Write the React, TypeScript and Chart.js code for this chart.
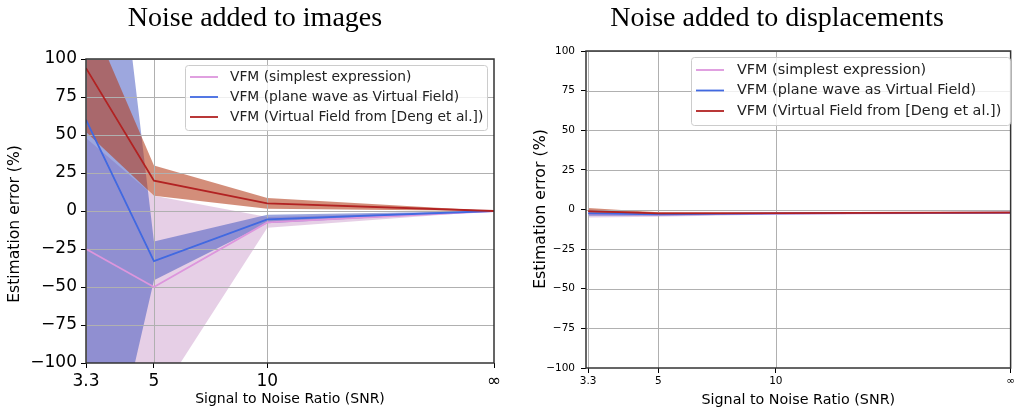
import React, { useEffect, useRef } from 'react';
import { Chart, registerables } from 'chart.js';

Chart.register(...registerables);

// ---------- data ----------
const SNR_LABELS = ['3.3', '5', '10', '\u221E'];
const SNR_POS = [3.3, 5, 10, 40]; // "∞" is placed at 40 on the log axis
const Y_TICKS = [-100, -75, -50, -25, 0, 25, 50, 75, 100];
const SERIES_NAMES = [
  'VFM (simplest expression)',
  'VFM (plane wave as Virtual Field)',
  'VFM (Virtual Field from [Deng et al.])',
];

// Noise added to images
const imgSimpleMean = [-25, -50, -7.5, 0];
const imgSimpleHigh = [48, 10, -4, 0];
const imgSimpleLow = [-150, -127, -11, 0];
const imgPlaneMean = [60, -33, -5.5, 0];
const imgPlaneHigh = [358, -20, -2.5, 0];
const imgPlaneLow = [-240, -45.5, -8, 0];
const imgDengMean = [94, 20, 5, 0];
const imgDengHigh = [134, 30, 8.5, 0];
const imgDengLow = [52, 10, 1.5, 0];

// Noise added to displacements
const dispSimpleMean = [-2.6, -3.2, -2.6, -2.1];
const dispSimpleHigh = [0, -2, -2, -1.9];
const dispSimpleLow = [-5, -4.5, -3.2, -2.3];
const dispPlaneMean = [-2.5, -3.1, -2.5, -2.0];
const dispPlaneHigh = [-1, -2.4, -2.2, -1.9];
const dispPlaneLow = [-4, -4, -3, -2.1];
const dispDengMean = [-1, -2.5, -2.3, -1.9];
const dispDengHigh = [1, -1.8, -2, -1.8];
const dispDengLow = [-3, -3.2, -2.6, -2.0];

// ---------- styles ----------
const LINE_COLORS = ['#DD96DD', '#4169E1', '#B22222'];
const FILL_COLORS = ['rgba(205,160,205,0.5)', 'rgba(60,80,190,0.5)', 'rgba(180,60,25,0.58)'];

const pts = (arr: number[]) => SNR_POS.map((x, i) => ({ x, y: arr[i] }));
const fmtY = (v: number) => (v < 0 ? '\u2212' + Math.abs(v) : String(v));

const decorPlugin = {
  id: 'decor',
  afterDatasetDraw(chart: any, args: any) {
    if (args.index !== 3) return;
    const { ctx, chartArea: a } = chart;
    const xs = chart.scales.x;
    const ys = chart.scales.y;
    ctx.save();
    ctx.beginPath();
    ctx.rect(a.left, a.top, a.right - a.left, a.bottom - a.top);
    ctx.clip();
    ctx.strokeStyle = '#b0b0b0';
    ctx.lineWidth = 1;
    ctx.beginPath();
    for (const t of ys.ticks) {
      const y = Math.round(ys.getPixelForValue(t.value)) + 0.5;
      ctx.moveTo(a.left, y);
      ctx.lineTo(a.right, y);
    }
    for (const t of xs.ticks) {
      const x = Math.round(xs.getPixelForValue(t.value)) + 0.5;
      ctx.moveTo(x, a.top);
      ctx.lineTo(x, a.bottom);
    }
    ctx.stroke();
    ctx.restore();
  },
  afterDatasetsDraw(chart: any) {
    const { ctx, chartArea: a } = chart;
    ctx.save();
    ctx.strokeStyle = '#333333';
    ctx.lineWidth = 1.5;
    ctx.strokeRect(a.left, a.top, a.right - a.left, a.bottom - a.top);
    ctx.restore();
  },
  afterDraw(chart: any, args: any, o: any) {
    const { ctx, chartArea: a } = chart;
    ctx.save();
    // title
    ctx.fillStyle = '#000';
    ctx.font = o.titleFont;
    ctx.textAlign = 'center';
    ctx.textBaseline = 'alphabetic';
    ctx.fillText(o.title, o.titleX, o.titleY);
    // x title
    ctx.font = o.axisFont;
    ctx.textBaseline = 'middle';
    ctx.fillText('Signal to Noise Ratio (SNR)', (a.left + a.right) / 2, o.xTitleY);
    // y title
    ctx.save();
    ctx.font = o.yAxisFont;
    ctx.translate(o.yTitleX, o.yTitleY);
    ctx.rotate(-Math.PI / 2);
    ctx.fillText('Estimation error (%)', 0, 0);
    ctx.restore();
    // legend
    const L = o.legend;
    ctx.fillStyle = 'rgba(255,255,255,0.8)';
    ctx.strokeStyle = '#cccccc';
    ctx.lineWidth = 1;
    ctx.beginPath();
    if (ctx.roundRect) ctx.roundRect(L.x + 0.5, L.y + 0.5, L.w, L.h, 3);
    else ctx.rect(L.x + 0.5, L.y + 0.5, L.w, L.h);
    ctx.fill();
    ctx.stroke();
    ctx.font = L.font;
    ctx.textAlign = 'left';
    ctx.textBaseline = 'middle';
    for (let i = 0; i < SERIES_NAMES.length; i++) {
      const y = L.rows[i];
      ctx.strokeStyle = LINE_COLORS[i];
      ctx.lineWidth = 1.8;
      ctx.beginPath();
      ctx.moveTo(L.lx1, y);
      ctx.lineTo(L.lx2, y);
      ctx.stroke();
      ctx.fillStyle = '#222';
      ctx.fillText(SERIES_NAMES[i], L.tx, y);
    }
    ctx.restore();
  },
};

function buildConfig(spec: any): any {
  const [sMean, sHigh, sLow, pMean, pHigh, pLow, dMean, dHigh, dLow] = spec.series;
  const line = (i: number, d: number[]) => ({
    label: SERIES_NAMES[i],
    data: pts(d),
    borderColor: LINE_COLORS[i],
    borderWidth: 1.8,
    pointRadius: 0,
    fill: false,
  });
  const band = (d: number[], fill: any, color: string) => ({
    data: pts(d),
    borderColor: 'transparent',
    borderWidth: 0,
    pointRadius: 0,
    fill,
    backgroundColor: color,
  });
  return {
    type: 'line',
    data: {
      datasets: [
        line(2, dMean),
        line(1, pMean),
        line(0, sMean),
        band(dLow, 4, FILL_COLORS[2]),
        band(dHigh, false, 'transparent'),
        band(pLow, 6, FILL_COLORS[1]),
        band(pHigh, false, 'transparent'),
        band(sLow, 8, FILL_COLORS[0]),
        band(sHigh, false, 'transparent'),
      ],
    },
    options: {
      responsive: false,
      animation: false,
      events: [],
      layout: { padding: spec.padding },
      plugins: {
        legend: { display: false },
        tooltip: { enabled: false },
        filler: { drawTime: 'beforeDatasetDraw' },
        decor: spec.decor,
      },
      scales: {
        x: {
          type: 'logarithmic',
          min: spec.xMin,
          max: 40,
          afterBuildTicks: (s: any) => {
            s.ticks = SNR_POS.map((v) => ({ value: v }));
          },
          afterFit: (s: any) => {
            s.height = spec.xHeight;
          },
          ticks: {
            callback: (_v: any, i: number) => SNR_LABELS[i],
            font: { family: 'DejaVu Sans', size: spec.xTickSize },
            color: '#000',
            padding: spec.xTickPad,
            maxRotation: 0,
            autoSkip: false,
          },
          grid: { drawOnChartArea: false, tickLength: spec.tickLen, tickColor: '#000', tickWidth: 1 },
          border: { display: false },
        },
        y: {
          type: 'linear',
          min: -100,
          max: 100,
          afterBuildTicks: (s: any) => {
            s.ticks = Y_TICKS.map((v) => ({ value: v }));
          },
          afterFit: (s: any) => {
            s.width = spec.yWidth;
          },
          ticks: {
            callback: (v: any) => fmtY(Number(v)),
            font: { family: 'DejaVu Sans', size: spec.yTickSize },
            color: '#000',
            padding: spec.yTickPad,
          },
          grid: { drawOnChartArea: false, tickLength: spec.tickLen, tickColor: '#000', tickWidth: 1 },
          border: { display: false },
        },
      },
    },
    plugins: [decorPlugin],
  };
}

const LEFT_SPEC = {
  series: [
    imgSimpleMean, imgSimpleHigh, imgSimpleLow,
    imgPlaneMean, imgPlaneHigh, imgPlaneLow,
    imgDengMean, imgDengHigh, imgDengLow,
  ],
  padding: { top: 59, right: 26, bottom: 0, left: 0 },
  xMin: 3.3,
  xHeight: 48,
  yWidth: 86,
  xTickSize: 17,
  yTickSize: 17,
  xTickPad: 3,
  yTickPad: 4,
  tickLen: 5,
  decor: {
    title: 'Noise added to images',
    titleFont: '28px "Liberation Serif"',
    titleX: 255,
    titleY: 26,
    axisFont: '14px "DejaVu Sans"',
    yAxisFont: '15.6px "DejaVu Sans"',
    xTitleY: 399,
    yTitleX: 15,
    yTitleY: 224,
    legend: {
      x: 185, y: 65, w: 302, h: 65,
      rows: [77, 97, 117],
      lx1: 190, lx2: 218, tx: 230,
      font: '13.8px "DejaVu Sans"',
    },
  },
};

const RIGHT_SPEC = {
  series: [
    dispSimpleMean, dispSimpleHigh, dispSimpleLow,
    dispPlaneMean, dispPlaneHigh, dispPlaneLow,
    dispDengMean, dispDengHigh, dispDengLow,
  ],
  padding: { top: 51, right: 4, bottom: 0, left: 0 },
  xMin: 3.26,
  xHeight: 43,
  yWidth: 66,
  xTickSize: 10.5,
  yTickSize: 10.5,
  xTickPad: 2,
  yTickPad: 6,
  tickLen: 5,
  decor: {
    title: 'Noise added to displacements',
    titleFont: '28px "Liberation Serif"',
    titleX: 257,
    titleY: 26,
    axisFont: '14.3px "DejaVu Sans"',
    yAxisFont: '15.8px "DejaVu Sans"',
    xTitleY: 400,
    yTitleX: 21,
    yTitleY: 209,
    legend: {
      x: 171, y: 57, w: 319, h: 68,
      rows: [70, 90.5, 111],
      lx1: 176, lx2: 204, tx: 217,
      font: '14.4px "DejaVu Sans"',
    },
  },
};

function Panel({ spec, left, width }: { spec: any; left: number; width: number }) {
  const ref = useRef<HTMLCanvasElement>(null);
  useEffect(() => {
    const chart = new Chart(ref.current as HTMLCanvasElement, buildConfig(spec));
    return () => chart.destroy();
  }, [spec]);
  return (
    <canvas
      ref={ref}
      width={width}
      height={411}
      style={{ position: 'absolute', left, top: 0, width, height: 411 }}
    />
  );
}

export default function App() {
  return (
    <div style={{ position: 'absolute', left: 0, top: 0, width: 1017, height: 411, background: '#fff', overflow: 'hidden' }}>
      <Panel spec={LEFT_SPEC} left={0} width={520} />
      <Panel spec={RIGHT_SPEC} left={520} width={497} />
    </div>
  );
}
